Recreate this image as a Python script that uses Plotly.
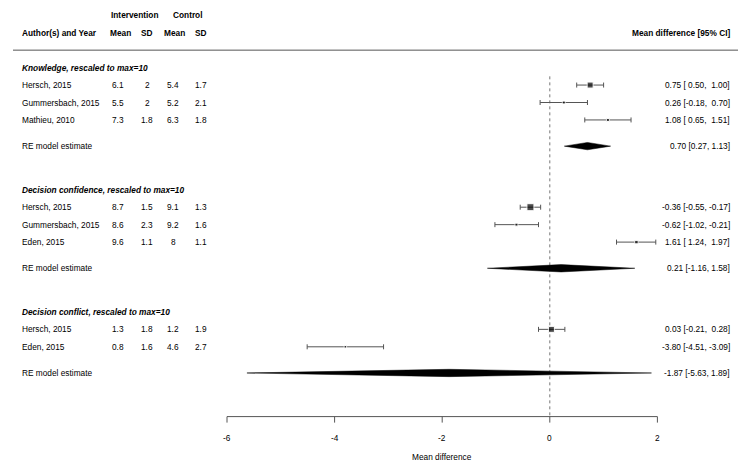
import plotly.graph_objects as go

# ---------------- data ----------------
groups = ["Knowledge, rescaled to max=10",
          "Decision confidence, rescaled to max=10",
          "Decision conflict, rescaled to max=10"]
studies = [["Hersch, 2015", "Gummersbach, 2015", "Mathieu, 2010"],
           ["Hersch, 2015", "Gummersbach, 2015", "Eden, 2015"],
           ["Hersch, 2015", "Eden, 2015"]]
int_mean = [[6.1, 5.5, 7.3], [8.7, 8.6, 9.6], [1.3, 0.8]]
int_sd = [[2, 2, 1.8], [1.5, 2.3, 1.1], [1.8, 1.6]]
ctl_mean = [[5.4, 5.2, 6.3], [9.1, 9.2, 8], [1.2, 4.6]]
ctl_sd = [[1.7, 2.1, 1.8], [1.3, 1.6, 1.1], [1.9, 2.7]]
md = [[0.75, 0.26, 1.08], [-0.36, -0.62, 1.61], [0.03, -3.80]]
ci_lo = [[0.50, -0.18, 0.65], [-0.55, -1.02, 1.24], [-0.21, -4.51]]
ci_hi = [[1.00, 0.70, 1.51], [-0.17, -0.21, 1.97], [0.28, -3.09]]
box_size = [[6, 3, 3], [7, 3, 3.5], [6, 2.5]]   # relative study weights (marker px)
re_est = [0.70, 0.21, -1.87]
re_lo = [0.27, -1.16, -5.63]
re_hi = [1.13, 1.58, 1.89]
x_ticks = [-6, -4, -2, 0, 2]

# ---------------- layout constants ----------------
OFF = 8                    # page body margin in the browser
W, H = 751 - OFF, 469 - OFF
X0, U = 549.8 - OFF, 53.8  # pixel of x=0, pixels per unit
Y0, P = 67.6 - OFF, 17.45  # pixel of row 0, pixels per row
FONT = "Liberation Sans, Arial, Helvetica, sans-serif"
FS = 8.3
GRAY = "#555555"

def px(p):
    return (p - OFF) / W

col_name = 20
col_x = [118, 147, 173, 201]
col_right = 731.5

fig = go.Figure()
ann = []
shapes = []

def text(x, y, s, anchor="left", bold=False, italic=False, xref="paper"):
    if italic:
        s = "<i>" + s + "</i>"
    if bold:
        s = "<b>" + s + "</b>"
    ann.append(dict(x=px(x) if xref == "paper" else x, y=y, xref=xref, yref="y", text=s, showarrow=False,
                    xanchor=anchor, yanchor="middle", font=dict(size=FS, color="black", family=FONT)))

def fmt_ci(e, lo, hi, pad=True):
    if pad:
        s = "%.2f [%5.2f, %5.2f]" % (e, lo, hi)
    else:
        s = "%.2f [%.2f, %.2f]" % (e, lo, hi)
    return s.replace(" ", "\u00a0")

def fmt_num(v):
    return ("%g" % v)

# headers
text(134, -3, "Intervention", "center", bold=True)
text(188, -3, "Control", "center", bold=True)
text(col_name, -2, "Author(s) and Year", bold=True)
for cx, lab in zip([120, 147, 174, 201], ["Mean", "SD", "Mean", "SD"]):
    text(cx, -2, lab, "center", bold=True)
text(col_right, -2, "Mean difference [95% CI]", "right", bold=True)

row = 0.0
top_row = None
for g in range(len(groups)):
    text(col_name, row, groups[g], bold=True, italic=True)
    rows = []
    for i, name in enumerate(studies[g]):
        r = row + 1 + i
        rows.append(r)
        if top_row is None:
            top_row = r
        text(col_name, r, name)
        for cx, v in zip(col_x, [int_mean[g][i], int_sd[g][i], ctl_mean[g][i], ctl_sd[g][i]]):
            text(cx, r, fmt_num(v), "center")
        text(col_right, r, fmt_ci(md[g][i], ci_lo[g][i], ci_hi[g][i]), "right")
    # study points with CIs
    fig.add_trace(go.Scatter(
        x=md[g], y=rows, mode="markers",
        marker=dict(symbol="square", size=box_size[g], color="black"),
        error_x=dict(type="data", symmetric=False,
                     array=[h - m for h, m in zip(ci_hi[g], md[g])],
                     arrayminus=[m - l for l, m in zip(ci_lo[g], md[g])],
                     color=GRAY, thickness=1, width=2.5),
        showlegend=False, hoverinfo="skip"))
    # RE diamond
    re_row = rows[-1] + 1.5
    h = 0.21
    fig.add_trace(go.Scatter(
        x=[re_lo[g], re_est[g], re_hi[g], re_est[g], re_lo[g]],
        y=[re_row, re_row - h, re_row, re_row + h, re_row],
        mode="lines", fill="toself", fillcolor="black",
        line=dict(color="black", width=0.5), showlegend=False, hoverinfo="skip"))
    text(col_name, re_row, "RE model estimate")
    text(col_right, re_row, fmt_ci(re_est[g], re_lo[g], re_hi[g], pad=False), "right")
    row = re_row + 2.5

axis_row = row                    # row of the x axis line

# header rule
shapes.append(dict(type="line", xref="paper", yref="y", x0=px(13), x1=px(738), y0=-1, y1=-1,
                   line=dict(color=GRAY, width=1)))
# reference line at 0
shapes.append(dict(type="line", xref="x", yref="y", x0=0, x1=0, y0=top_row - 0.5, y1=axis_row,
                   line=dict(color="#777777", width=1, dash="dot"), layer="below"))
# x axis line, ticks, labels
shapes.append(dict(type="line", xref="x", yref="y", x0=x_ticks[0], x1=x_ticks[-1], y0=axis_row, y1=axis_row,
                   line=dict(color=GRAY, width=1)))
for t in x_ticks:
    shapes.append(dict(type="line", xref="x", yref="y", x0=t, x1=t, y0=axis_row, y1=axis_row + 6 / P,
                       line=dict(color=GRAY, width=1)))
    text(t, axis_row + 1.2, "%g" % t, "center", xref="x")
text((x_ticks[0] + x_ticks[-1]) / 2, axis_row + 2.3, "Mean difference", "center", xref="x")

xmin = -X0 / U
xmax = (W - X0) / U
ytop = -Y0 / P
ybot = (H - Y0) / P

fig.update_layout(
    width=W, height=H, margin=dict(l=0, r=0, t=0, b=0, pad=0),
    paper_bgcolor="white", plot_bgcolor="white",
    font=dict(family=FONT, size=FS, color="black"),
    xaxis=dict(range=[xmin, xmax], visible=False, showgrid=False, zeroline=False),
    yaxis=dict(range=[ybot, ytop], visible=False, showgrid=False, zeroline=False),
    annotations=ann, shapes=shapes,
)

fig.write_html("out.html")
